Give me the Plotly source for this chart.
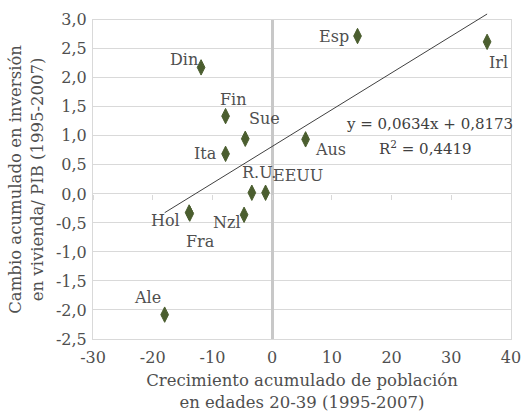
import plotly.graph_objects as go

# ---- data ----
countries = ["Esp", "Irl", "Din", "Fin", "Sue", "Ita", "Aus", "R.U.", "EEUU",
             "Hol", "Fra", "Nzl", "Ale"]
pop_growth = [14.3, 36.0, -11.9, -7.8, -4.5, -7.8, 5.6, -3.4, -1.1,
              -13.9, -13.8, -4.7, -18.0]
housing_change = [2.72, 2.62, 2.18, 1.34, 0.95, 0.69, 0.94, 0.02, 0.02,
                  -0.32, -0.34, -0.36, -2.08]

trend_slope = 0.0634
trend_intercept = 0.8173
equation_text = "y = 0,0634x + 0,8173"
r2_text = "R<sup>2</sup> = 0,4419"

x_tickvals = [-30, -20, -10, 0, 10, 20, 30, 40]
x_ticktext = ["-30", "-20", "-10", "0", "10", "20", "30", "40"]
y_tickvals = [-2.5, -2.0, -1.5, -1.0, -0.5, 0.0, 0.5, 1.0, 1.5, 2.0, 2.5, 3.0]
y_ticktext = ["-2,5", "-2,0", "-1,5", "-1,0", "-0,5", "0,0", "0,5", "1,0",
              "1,5", "2,0", "2,5", "3,0"]

# label offsets in pixels (style)
label_dx = [-24, 11, -17, 8, 19, -20, 25, 7, 32, -24, 11, -17, -17]
label_dy = [0, 21, -8, -17, -20, 0, 10, -20, -17, 8, 28, 8, -17]

FONT = "DejaVu Serif"
GRAY = "#4f4f4f"
GRID = "#d9d9d9"
MARKER = "#4b5e2f"

# layout geometry (style)
W, H = 526, 414
M_L, M_R, M_T, M_B = 93, 15, 3, 75
MAIN_TOP_GAP = 8  # px between top of trend-line area and top of main plot
D = (H - M_T - M_B - MAIN_TOP_GAP) / (H - M_T - M_B)

y_lo, y_hi = y_tickvals[0], y_tickvals[-1]
x_lo, x_hi = x_tickvals[0], x_tickvals[-1]

fig = go.Figure()

fig.add_trace(go.Scatter(
    x=pop_growth, y=housing_change, mode="markers",
    marker=dict(symbol="diamond-tall", size=11, color=MARKER,
                line=dict(color=MARKER, width=1)),
    text=countries, showlegend=False))

# trendline over the data range (on a slightly taller invisible subplot so it
# can run just past the top of the plot area, as in the original)
xmin, xmax = min(pop_growth), max(pop_growth)
fig.add_trace(go.Scatter(
    x=[xmin, xmax],
    y=[trend_slope * xmin + trend_intercept, trend_slope * xmax + trend_intercept],
    xaxis="x4", yaxis="y3",
    mode="lines", line=dict(color="#404040", width=1), hoverinfo="skip",
    showlegend=False))

# invisible trace for the tick-mark axis at y=0
fig.add_trace(go.Scatter(x=[x_lo], y=[0], xaxis="x2", mode="markers",
                         marker=dict(opacity=0), showlegend=False, hoverinfo="skip"))

annotations = []
for name, x, y, dx, dy in zip(countries, pop_growth, housing_change, label_dx, label_dy):
    annotations.append(dict(x=x, y=y, text=name, showarrow=False,
                            xshift=dx, yshift=-dy,
                            font=dict(family=FONT, size=16, color=GRAY)))

annotations.append(dict(x=26.4, y=1.21, text=equation_text, showarrow=False,
                        font=dict(family=FONT, size=15, color="#404040")))
annotations.append(dict(x=25.7, y=0.785, text=r2_text, showarrow=False,
                        font=dict(family=FONT, size=15, color="#404040")))

y0_pos = D * (0 - y_lo) / (y_hi - y_lo)

fig.update_layout(
    width=W, height=H,
    margin=dict(l=M_L, r=M_R, t=M_T, b=M_B),
    paper_bgcolor="white", plot_bgcolor="rgba(0,0,0,0)",
    font=dict(family=FONT, size=16, color=GRAY),
    annotations=annotations,
    xaxis=dict(range=[x_lo, x_hi], tickvals=x_tickvals, ticktext=x_ticktext,
               showgrid=False, zeroline=True, zerolinecolor="#c8c8c8",
               zerolinewidth=3, showline=True, linecolor=GRID, linewidth=1,
               mirror=True, ticks="", ticklabelstandoff=4, anchor="y",
               tickfont=dict(family=FONT, size=16, color=GRAY),
               title=dict(text="Crecimiento acumulado de población<br>en edades 20-39 (1995-2007)",
                          font=dict(family=FONT, size=16.5, color=GRAY), standoff=8)),
    xaxis2=dict(overlaying="x", matches="x", anchor="free", position=y0_pos,
                tickvals=x_tickvals, showticklabels=False, ticks="outside",
                ticklen=5, tickcolor=GRID, showgrid=False, zeroline=False,
                showline=False),
    xaxis4=dict(matches="x", anchor="y3", visible=False, showgrid=False,
                zeroline=False),
    yaxis=dict(range=[y_lo, y_hi], tickvals=y_tickvals, ticktext=y_ticktext,
               showgrid=True, gridcolor=GRID, gridwidth=1,
               zeroline=False, showline=True, linecolor=GRID, mirror=True,
               ticks="", domain=[0, D], ticklabelstandoff=2, anchor="x",
               tickfont=dict(family=FONT, size=16, color=GRAY),
               title=dict(text="Cambio acumulado en inversión<br>en vivienda/ PIB (1995-2007)",
                          font=dict(family=FONT, size=16.5, color=GRAY), standoff=8)),
    yaxis3=dict(domain=[0, 1], range=[y_lo, y_lo + (y_hi - y_lo) / D],
                anchor="x4", visible=False, showgrid=False, zeroline=False),
)

fig.write_html("out.html")
